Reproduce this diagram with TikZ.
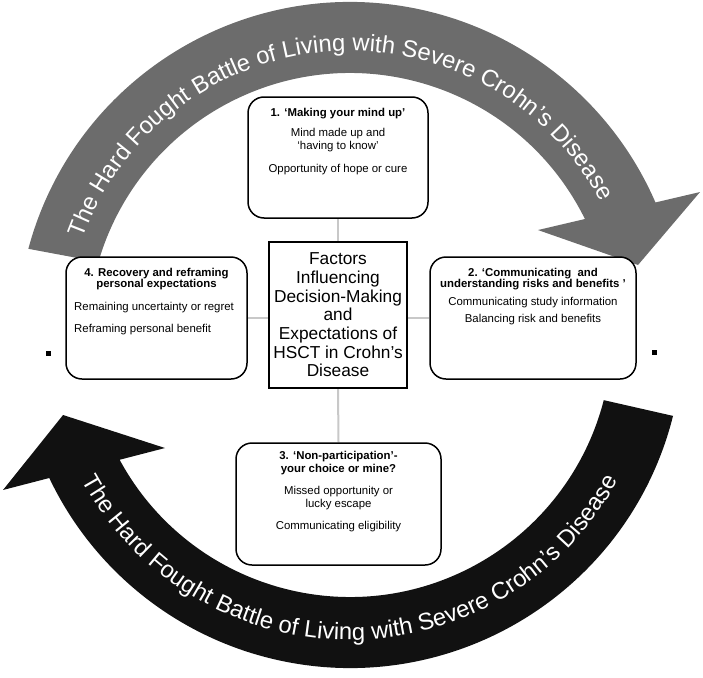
\documentclass[tikz,border=0pt]{standalone}
\usepackage{fontspec}
\setmainfont{Liberation Sans}
\usetikzlibrary{decorations.text}
\definecolor{arcgray}{RGB}{108,108,108}
\definecolor{arcblack}{RGB}{17,17,17}
\definecolor{linkgray}{RGB}{200,200,200}
\newcommand{\arcfont}{\fontsize{23.8}{28}\selectfont}
\newcommand{\boxfont}{\fontsize{11.4}{12.6}\selectfont}
\pgfdeclarelayer{bg}
\pgfsetlayers{bg,main}
\begin{document}
\begin{tikzpicture}[x=1pt,y=-1pt,
  theme/.style={draw=black, line width=1.5pt, rounded corners=16pt, fill=white, inner sep=0pt},
  centrebox/.style={draw=black, line width=1.5pt, fill=white, inner sep=0pt, align=center,
                    font=\fontsize{17.3}{18.7}\selectfont},
  link/.style={draw=linkgray, line width=2pt},
  btext/.style={inner sep=0pt, align=center, font=\boxfont, anchor=base},
  dot/.style={fill=black, inner sep=0pt, minimum size=5pt},
  arctext/.style={decorate, decoration={text along path, text align=center, text color=white,
                  text={|\arcfont|The Hard Fought Battle of Living with Severe Crohn’s Disease}}}
]
\useasboundingbox (0,0) rectangle (703,677);

% circular arrows
\begin{scope}[shift={(350,335)}]
  \fill[arcgray] (165:333pt) arc[start angle=165, end angle=23.46, radius=333pt]
     -- (22.22:378.1pt) -- (13.66:296.4pt) -- (29.18:215.3pt)
     -- (26.28:262pt) arc[start angle=26.28, end angle=163.8, radius=262pt] -- cycle;
  \fill[arcblack] (-14.06:333pt) arc[start angle=-14.06, end angle=-154.57, radius=333pt]
     -- (204.07:380pt) -- (195.58:297.9pt) -- (211.42:216.8pt)
     -- (-151.56:262pt) arc[start angle=-151.56, end angle=-14.4, radius=262pt] -- cycle;
  \path[arctext] (175:284pt) arc[start angle=175, end angle=13, radius=284pt];
  \path[arctext] (195:305pt) arc[start angle=195, end angle=345, radius=305pt];
\end{scope}

% boxes
\node[theme, minimum width=180pt, minimum height=121pt] (b1) at (338,157.5) {};
\node[theme, minimum width=206pt, minimum height=122pt] (b2) at (533,318) {};
\node[theme, minimum width=205pt, minimum height=122pt] (b3) at (338.5,504) {};
\node[theme, minimum width=181pt, minimum height=122pt] (b4) at (156.5,318) {};
\node[centrebox, minimum width=138pt, minimum height=146pt] (ctr) at (338,315)
  {Factors\\Influencing\\Decision-Making\\and\\Expectations of\\HSCT in Crohn’s\\Disease};

\begin{pgfonlayer}{bg}
  \draw[link] (b1.south) -- (ctr.north);
  \draw[link] (ctr.south) -- (b3.north);
  \draw[link] (b4.east) -- (b4.east -| ctr.west);
  \draw[link] (ctr.east |- b2.west) -- (b2.west);
\end{pgfonlayer}

% box texts (anchored at the baseline of the last line)
\node[btext] (t1) at (338,172) {\textbf{1. ‘Making your mind up’}\\[7.4pt]Mind made up and\\‘having to know’\\[10pt]Opportunity of hope or cure};
\node[btext] (t2) at (533,322) {\textbf{2. ‘Communicating~ and}\\[-1.6pt]\textbf{understanding risks and benefits ’}\\[5.4pt]Communicating study information\\[4.4pt]Balancing risk and benefits};
\node[btext] (t3) at (338.5,529) {\textbf{3. ‘Non-participation’-}\\[0.4pt]\textbf{your choice or mine?}\\[9.4pt]Missed opportunity or\\lucky escape\\[9.4pt]Communicating eligibility};
\node[btext] (t4h) at (156.5,287) {\textbf{4. Recovery and reframing}\\[-1.6pt]\textbf{personal expectations}};
\node[btext, anchor=base west, align=left] (t4b) at (74,332) {Remaining uncertainty or regret\\[9.4pt]Reframing personal benefit};

% stray marks
\node[dot] (sqL) at (48,353) {};
\node[dot] (sqR) at (654,352) {};
\end{tikzpicture}
\end{document}
